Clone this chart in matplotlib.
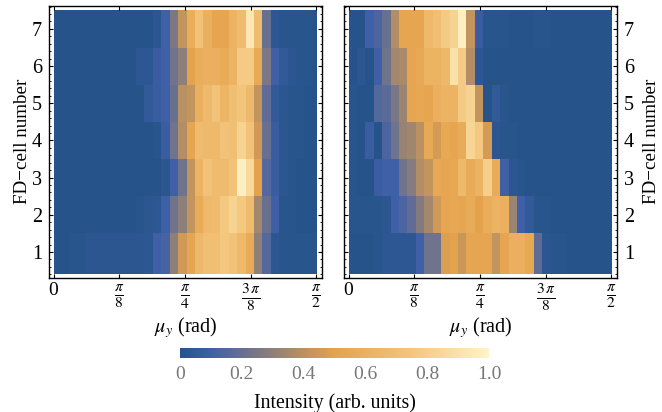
import numpy as np
import matplotlib
matplotlib.use("Agg")
import matplotlib.pyplot as plt
from matplotlib.colors import LinearSegmentedColormap
from matplotlib.ticker import MultipleLocator

plt.rcParams['font.family'] = ['Liberation Serif', 'DejaVu Serif']
plt.rcParams['mathtext.fontset'] = 'stix'

# FD-cell rows, bottom to top, 32 mu_y bins each
left_1 = [0, 0, .01, .01, .02, .02, .02, .02, .02, .02, .02, .03, .1, .12, .3, .45, .52, .65, .7, .7, .75, .72, .66, .56, .3, .15, .03, .01, .01, .01, .01, .01]
left_2 = [0, 0, 0, 0, 0, 0, 0, 0, 0, 0, .01, .02, .03, .09, .22, .3, .42, .56, .66, .68, .76, .82, .76, .68, .35, .2, .1, .01, .01, 0, 0, 0]
left_3 = [0, 0, 0, 0, 0, 0, 0, 0, 0, 0, 0, 0, 0, .02, .1, .22, .42, .62, .72, .68, .68, .72, .98, .85, .5, .15, .08, .02, .01, 0, 0, 0]
left_4 = [0, 0, 0, 0, 0, 0, 0, 0, 0, 0, 0, 0, .01, .08, .22, .38, .52, .68, .66, .66, .72, .7, .82, .72, .45, .2, .08, .02, .01, .01, 0, 0]
left_5 = [0, 0, 0, 0, 0, 0, 0, 0, 0, 0, 0, .05, .08, .1, .2, .4, .42, .6, .66, .72, .64, .7, .74, .66, .42, .18, .05, .02, .01, .01, 0, 0]
left_6 = [0, 0, 0, 0, 0, 0, 0, 0, 0, 0, .03, .03, .08, .1, .22, .3, .5, .58, .6, .6, .57, .62, .78, .78, .55, .25, .1, .05, .02, .01, .01, 0]
left_7 = [0, 0, 0, 0, 0, 0, 0, 0, 0, 0, 0, 0, .02, .1, .25, .42, .58, .72, .6, .52, .52, .62, .68, .93, .68, .2, .03, .01, .01, .01, .01, 0]

right_1 = [0, 0, 0, .01, .03, .03, .03, .03, .1, .22, .22, .48, .5, .44, .52, .52, .52, .42, .52, .6, .6, .55, .18, .02, .01, .01, 0, 0, 0, 0, 0, 0]
right_2 = [.01, .01, .01, .01, .02, .1, .13, .18, .27, .35, .45, .52, .54, .52, .56, .5, .58, .62, .6, .33, .1, .05, .01, .01, 0, 0, 0, 0, 0, 0, 0, 0]
right_3 = [.01, 0, 0, .08, .1, .1, .22, .28, .38, .42, .55, .52, .54, .66, .56, .62, .8, .56, .1, .02, .01, 0, 0, 0, 0, 0, 0, 0, 0, 0, 0, 0]
right_4 = [.01, 0, .08, 0, .13, .22, .32, .34, .4, .55, .46, .55, .52, .56, .83, .76, .46, .02, .01, .01, 0, 0, 0, 0, 0, 0, 0, 0, 0, 0, 0, 0]
right_5 = [.01, 0, 0, .15, .17, .25, .33, .52, .54, .52, .6, .62, .62, .78, .82, .42, 0, .05, .01, 0, 0, 0, 0, 0, 0, 0, 0, 0, 0, 0, 0, 0]
right_6 = [0, .02, 0, .1, .22, .35, .36, .52, .55, .62, .62, .65, .9, .78, .38, .03, 0, 0, 0, 0, 0, 0, 0, 0, 0, 0, 0, 0, 0, 0, 0, 0]
right_7 = [0, 0, .1, .13, .2, .38, .52, .52, .52, .66, .7, .78, .82, .97, .42, .08, .01, .01, .01, 0, 0, 0, .01, .01, 0, 0, 0, 0, 0, 0, 0, 0]

cell_numbers = [1, 2, 3, 4, 5, 6, 7]
mu_ticks = [0, np.pi / 8, np.pi / 4, 3 * np.pi / 8, np.pi / 2]
mu_labels = ['0', r'$\frac{\pi}{8}$', r'$\frac{\pi}{4}$', r'$\frac{3\,\pi}{8}$', r'$\frac{\pi}{2}$']
cbar_ticks = [0, 0.2, 0.4, 0.6, 0.8, 1.0]
cbar_labels = ['0', '0.2', '0.4', '0.6', '0.8', '1.0']

cmap = LinearSegmentedColormap.from_list('sunset', [
    (0.0, '#26548a'), (0.1, '#4060a8'), (0.3, '#8f7f78'),
    (0.5, '#e5a24c'), (0.75, '#f3c67c'), (1.0, '#fff3c8')])

W, H = 662, 412
fig = plt.figure(figsize=(W / 100, H / 100), dpi=100)


def panel(x0, x1, rows, shift, right_side=False):
    # frame given in pixels of the figure
    ax = fig.add_axes([x0 / W, 1 - 278 / H, (x1 - x0) / W, 272.5 / H])
    step = (np.pi / 2) / 31.2
    x_edges = np.clip(np.arange(33) * step + shift * step, 0, np.pi / 2 + 0.003)
    y_edges = np.array([0.41, 1.5, 2.5, 3.5, 4.5, 5.5, 6.5, 7.5])
    ax.pcolormesh(x_edges, y_edges, np.array(rows), cmap=cmap, vmin=0, vmax=1, linewidth=0, rasterized=True)
    ax.set_xlim(-0.027, 1.605)
    ax.set_ylim(0.30, 7.63)
    ax.set_xticks(mu_ticks)
    ax.set_xticklabels(mu_labels)
    ax.set_yticks(cell_numbers)
    ax.yaxis.set_minor_locator(MultipleLocator(0.2))
    ax.tick_params(axis='x', which='major', direction='in', top=True, length=3, width=0.8, labelsize=14, pad=3)
    for lab in ax.get_xticklabels()[1:]:
        lab.set_fontsize(16)
    ax.tick_params(axis='y', which='major', direction='in', left=True, right=True, length=3, width=0.8, labelsize=14.5, pad=5)
    ax.tick_params(axis='y', which='minor', direction='in', left=True, right=True, length=1.5, width=0.6)
    if right_side:
        ax.yaxis.tick_right()
        ax.yaxis.set_label_position('right')
        ax.tick_params(axis='y', which='both', left=True, right=True)
    ax.set_ylabel('FD\u2212cell number', fontsize=13.7, va='center')
    ax.yaxis.set_label_coords(1.125 if right_side else -0.097, 0.5)
    ax.set_xlabel(r'$\mu_y$ (rad)', fontsize=14.5, va='center')
    ax.xaxis.set_label_coords(0.5, -0.18)
    for side in ax.spines.values():
        side.set_linewidth(1.0)
    return ax


left_rows = [left_1, left_2, left_3, left_4, left_5, left_6, left_7]
right_rows = [right_1, right_2, right_3, right_4, right_5, right_6, right_7]
panel(49, 322, left_rows, -0.2)
ax_r = panel(344, 617, right_rows, 0, right_side=True)

cax = fig.add_axes([180 / W, 1 - 358 / H, 309 / W, 10 / H])
sm = plt.cm.ScalarMappable(cmap=cmap, norm=plt.Normalize(0, 1))
cb = fig.colorbar(sm, cax=cax, orientation='horizontal')
cb.outline.set_visible(False)
cb.set_ticks(cbar_ticks)
cb.set_ticklabels(cbar_labels)
cb.ax.tick_params(length=0, labelsize=14, labelcolor='#777777', pad=6)
cb.set_label('Intensity (arb. units)', fontsize=14.3, labelpad=7)

fig.savefig('out.png', dpi=100)
